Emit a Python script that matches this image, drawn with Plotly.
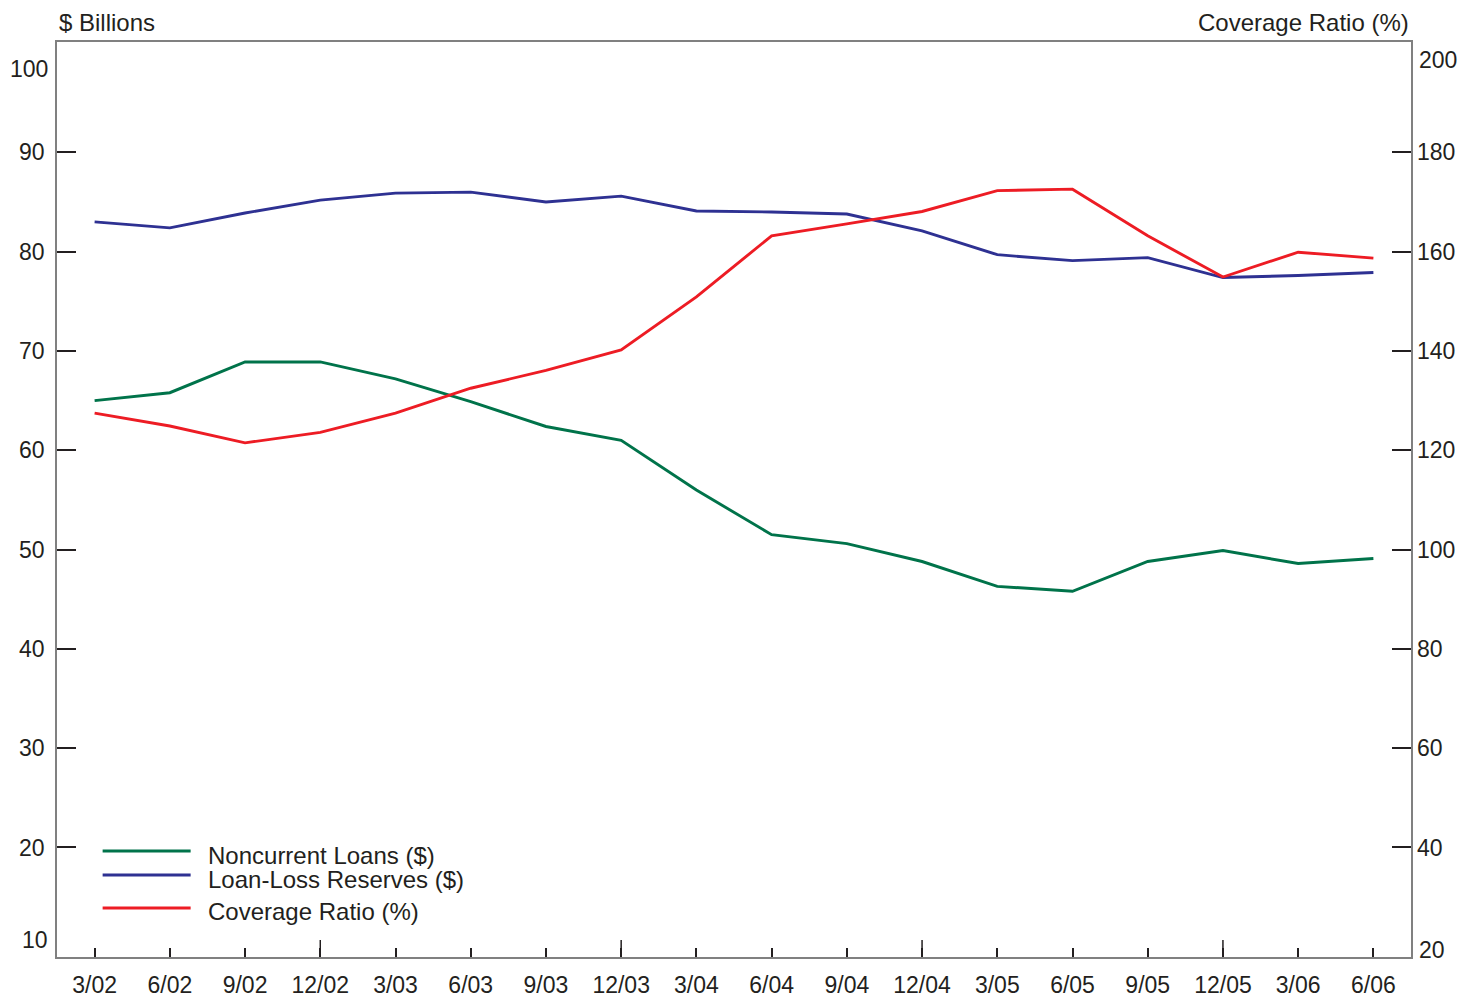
import plotly.graph_objects as go

quarters = ["3/02", "6/02", "9/02", "12/02", "3/03", "6/03", "9/03", "12/03", "3/04",
            "6/04", "9/04", "12/04", "3/05", "6/05", "9/05", "12/05", "3/06", "6/06"]
noncurrent = [65.0, 65.8, 68.9, 68.9, 67.2, 64.9, 62.4, 61.0, 56.0,
              51.5, 50.6, 48.8, 46.3, 45.8, 48.8, 49.9, 48.6, 49.1]
reserves = [83.0, 82.4, 83.9, 85.2, 85.9, 86.0, 85.0, 85.6, 84.1,
            84.0, 83.8, 82.1, 79.7, 79.1, 79.4, 77.4, 77.6, 77.9]
coverage = [127.5, 124.9, 121.5, 123.6, 127.5, 132.5, 136.1, 140.2, 150.9,
            163.2, 165.6, 168.1, 172.3, 172.6, 163.2, 154.9, 159.9, 158.7]

left_ticks = [20, 30, 40, 50, 60, 70, 80, 90]
right_ticks = [40, 60, 80, 100, 120, 140, 160, 180]

GREEN = "#00734A"
BLUE = "#2E3192"
RED = "#ED1C24"
TXT = "#231f20"
FONT = "Liberation Sans, Arial, sans-serif"
FS = 23
FS_TXT = 24

xs = list(range(len(quarters)))
y_range = [8.97, 101.12]
y2_range = [2 * v for v in y_range]

fig = go.Figure()
fig.add_trace(go.Scatter(x=xs, y=noncurrent, mode="lines", name="Noncurrent Loans ($)",
                         line=dict(color=GREEN, width=2.9), showlegend=False))
fig.add_trace(go.Scatter(x=xs, y=reserves, mode="lines", name="Loan-Loss Reserves ($)",
                         line=dict(color=BLUE, width=2.9), showlegend=False))
fig.add_trace(go.Scatter(x=xs, y=coverage, mode="lines", name="Coverage Ratio (%)",
                         line=dict(color=RED, width=2.9), showlegend=False, yaxis="y2"))

fig.update_layout(
    width=1461, height=997,
    margin=dict(l=57, r=50, t=42, b=40, autoexpand=False),
    paper_bgcolor="white", plot_bgcolor="white",
    font=dict(family=FONT, size=FS, color=TXT),
    xaxis=dict(range=[-0.5, len(quarters) - 0.5], tickvals=xs, ticktext=quarters,
               ticks="inside", ticklen=9, tickwidth=1.5, tickcolor=TXT,
               showline=True, linecolor="#808080", linewidth=1.5, mirror=True,
               showgrid=False, zeroline=False, ticklabelstandoff=7,
               automargin=False, tickfont=dict(size=FS)),
    yaxis=dict(range=y_range, tickvals=left_ticks, ticks="inside", ticklen=19,
               tickwidth=2, tickcolor=TXT, showline=True, linecolor="#808080",
               linewidth=1.5, mirror=True, showgrid=False, zeroline=False,
               ticklabelstandoff=6, automargin=False, tickfont=dict(size=FS)),
    yaxis2=dict(range=y2_range, tickvals=right_ticks, overlaying="y", side="right",
                ticks="inside", ticklen=19, tickwidth=2, tickcolor=TXT,
                showline=False, showgrid=False, zeroline=False,
                ticklabelstandoff=5, automargin=False, tickfont=dict(size=FS)),
)

shapes = []
# longer year-end ticks on the x axis
for i, q in enumerate(quarters):
    if q.startswith("12/"):
        shapes.append(dict(type="line", xref="x", yref="paper", x0=i, x1=i,
                           y0=0, y1=17 / 915, line=dict(color=TXT, width=1.5)))

# custom legend
legend_items = [("Noncurrent Loans ($)", GREEN, 0.1158, 0.1104),
                ("Loan-Loss Reserves ($)", BLUE, 0.0896, 0.0842),
                ("Coverage Ratio (%)", RED, 0.0536, 0.0492)]
annotations = []
for name, col, ly, ty in legend_items:
    shapes.append(dict(type="line", xref="paper", yref="paper", x0=0.0337, x1=0.0987,
                       y0=ly, y1=ly, line=dict(color=col, width=3)))
    annotations.append(dict(text=name, xref="paper", yref="paper", x=0.1098, y=ty,
                            xanchor="left", yanchor="middle", showarrow=False,
                            font=dict(size=FS_TXT, color=TXT)))

# end labels without tick marks
annotations += [
    dict(text="100", xref="paper", yref="y", x=0, y=98.4, xanchor="right",
         yanchor="middle", xshift=-7, showarrow=False),
    dict(text="10", xref="paper", yref="y", x=0, y=10.7, xanchor="right",
         yanchor="middle", xshift=-7, showarrow=False),
    dict(text="200", xref="paper", yref="y2", x=1, y=198.7, xanchor="left",
         yanchor="middle", xshift=6, showarrow=False),
    dict(text="20", xref="paper", yref="y2", x=1, y=19.4, xanchor="left",
         yanchor="middle", xshift=6, showarrow=False),
    dict(text="$ Billions", xref="paper", yref="paper", x=0, y=1, xanchor="left",
         yanchor="middle", yshift=20, showarrow=False, font=dict(size=FS_TXT)),
    dict(text="Coverage Ratio (%)", xref="paper", yref="paper", x=1, y=1, xanchor="right",
         yanchor="middle", yshift=20, showarrow=False, font=dict(size=FS_TXT)),
]

fig.update_layout(shapes=shapes, annotations=annotations)
fig.write_html("out.html", config={"displayModeBar": False},
               post_script="document.body.style.margin='0';document.body.style.overflow='hidden';")
